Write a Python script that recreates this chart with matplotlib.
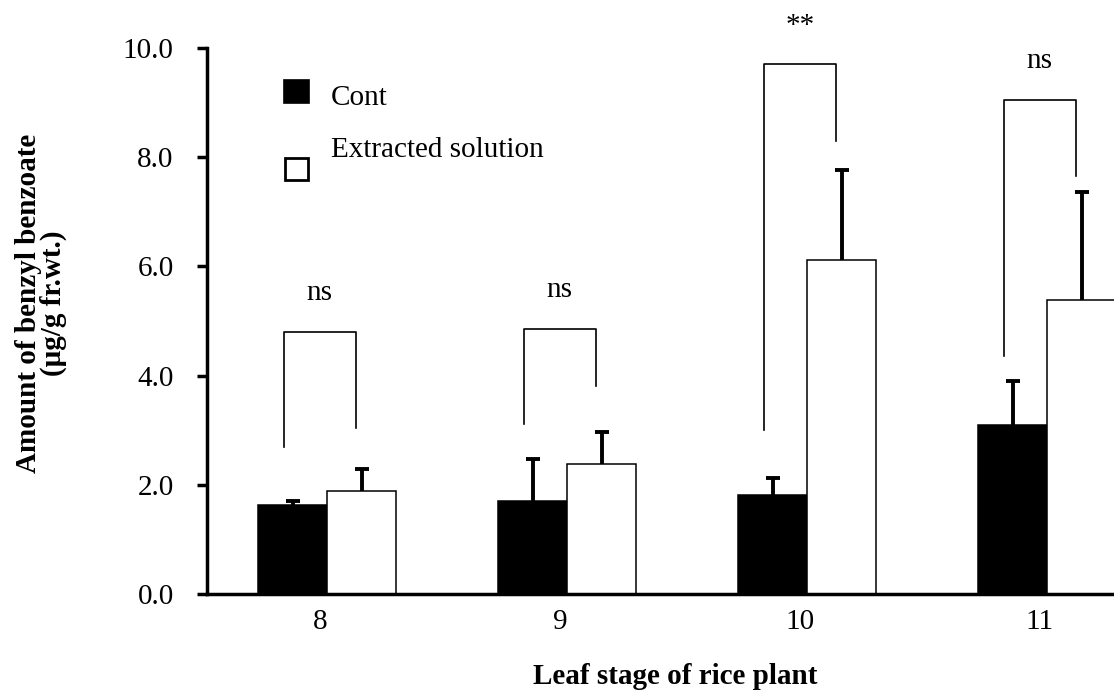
import numpy as np
import matplotlib
matplotlib.use("Agg")
import matplotlib.pyplot as plt
from matplotlib.patches import Rectangle

plt.rcParams["font.family"] = ["Liberation Serif", "DejaVu Serif"]

# data
stages = ["8", "9", "10", "11"]
series_names = ["Cont", "Extracted solution"]
cont = [1.63, 1.71, 1.81, 3.09]
cont_err = [0.08, 0.76, 0.32, 0.82]
extract = [1.89, 2.38, 6.11, 5.38]
extract_err = [0.40, 0.59, 1.66, 1.99]

# significance brackets per stage
sig_labels = ["ns", "ns", "**", "ns"]
bracket_top = [4.80, 4.86, 9.70, 9.05]
bracket_left_end = [2.69, 3.11, 3.00, 4.36]
bracket_right_end = [3.04, 3.81, 8.30, 7.66]

W, H = 1114, 692
fig = plt.figure(figsize=(W / 100, H / 100), dpi=100)
ax = fig.add_axes([207 / W, 1 - 594 / H, 1 - 207 / W, (594 - 48) / H])

x = np.arange(len(stages))
w = 0.2875

ax.bar(x - w / 2, cont, w, color="black", edgecolor="black", linewidth=1.1, zorder=2)
ax.bar(x + w / 2, extract, w, color="white", edgecolor="black", linewidth=1.1, zorder=2)

# upper-only error bars (hide the cap at the bar top)
for xs, vals, errs in [(x - w / 2, cont, cont_err), (x + w / 2, extract, extract_err)]:
    eb = ax.errorbar(xs, vals, yerr=[np.zeros(len(vals)), errs], fmt="none",
                     ecolor="black", elinewidth=2.8, capsize=5, capthick=2.8, zorder=3)
    eb[1][0].set_visible(False)

# brackets and labels
for i in range(len(stages)):
    xl, xr = x[i] - 0.18, x[i] + 0.12
    ax.plot([xl, xl, xr, xr],
            [bracket_left_end[i], bracket_top[i], bracket_top[i], bracket_right_end[i]],
            color="black", lw=1.2, clip_on=False)
    ax.text((xl + xr) / 2, bracket_top[i] + 0.58, sig_labels[i], ha="center",
            va="baseline", fontsize=21, clip_on=False)

ax.set_xlim(-0.5, 3.279)
ax.set_ylim(0, 10)
ax.set_yticks(np.arange(0, 10.1, 2))
ax.set_yticklabels([f"{v:.1f}" for v in np.arange(0, 10.1, 2)])
ax.set_xticks(x - 0.03)
ax.set_xticklabels(stages)
ax.tick_params(axis="y", direction="out", length=7, width=2.5, pad=17, labelsize=21)
ax.tick_params(axis="x", length=0, pad=11, labelsize=21)

for s in ["top", "right"]:
    ax.spines[s].set_visible(False)
for s in ["left", "bottom"]:
    ax.spines[s].set_linewidth(2.5)

# legend drawn by hand
fig.add_artist(Rectangle((284 / W, 1 - 103 / H), 25 / W, 23 / H, transform=fig.transFigure,
                         facecolor="black", edgecolor="black", lw=1.2))
fig.add_artist(Rectangle((285 / W, 1 - 180 / H), 23 / W, 22 / H, transform=fig.transFigure,
                         facecolor="white", edgecolor="black", lw=2.0))
fig.text(331 / W, 1 - 105 / H, series_names[0], fontsize=21, va="baseline")
fig.text(331 / W, 1 - 157 / H, series_names[1], fontsize=21, va="baseline")

fig.text(675 / W, 1 - 676 / H, "Leaf stage of rice plant", fontsize=21,
         fontweight="bold", ha="center", va="center")
fig.text(41 / W, 1 - 303 / H, "Amount of benzyl benzoate\n(μg/g fr.wt.)", fontsize=21,
         fontweight="bold", rotation=90, ha="center", va="center",
         multialignment="center", linespacing=0.85)

fig.savefig("out.png", dpi=100)
